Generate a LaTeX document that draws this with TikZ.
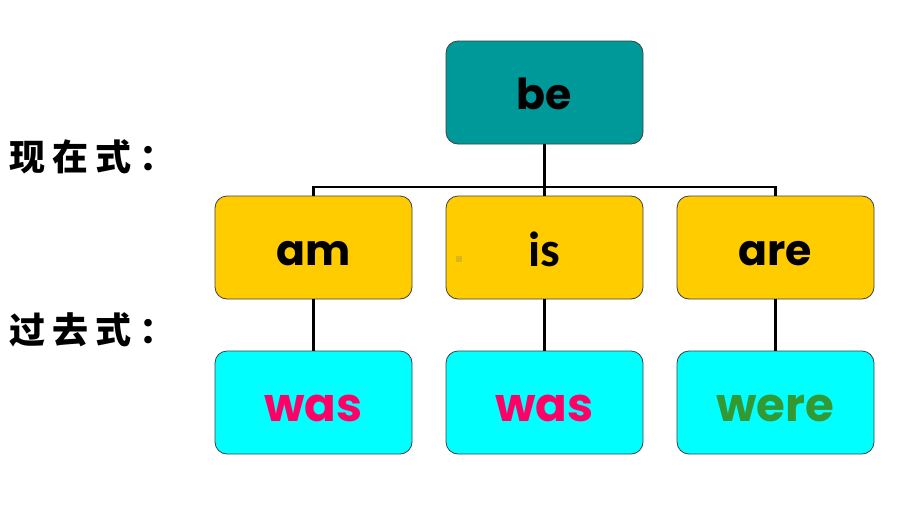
\documentclass[tikz,border=0pt]{standalone}
\usepackage{fontspec}
\setmainfont{Poppins}
\newfontfamily\cjk{Noto Sans CJK SC Black}
\newfontfamily\isfont{Carlito}
\definecolor{teal1}{HTML}{009999}
\definecolor{yel}{HTML}{FFCC00}
\definecolor{cyan1}{HTML}{00FFFF}
\definecolor{pinkred}{HTML}{FF0066}
\definecolor{green1}{HTML}{339933}
\definecolor{bord}{HTML}{404040}
\newcommand{\cg}{\hspace{5.5pt}}
\begin{document}
\begin{tikzpicture}[x=0.75pt,y=-0.75pt,
  box/.style={draw=bord,line width=0.6pt,rounded corners=9pt,minimum width=147.75pt,minimum height=77.25pt,inner sep=0pt},
  tbox/.style={box,fill=teal1},
  ybox/.style={box,fill=yel},
  cbox/.style={box,fill=cyan1},
  word/.style={anchor=base,inner sep=0pt,font=\fontsize{32}{34}\selectfont\bfseries},
  past/.style={word,font=\fontsize{35}{36}\selectfont\bfseries},
  conn/.style={draw=black,line width=1.6pt},
  lab/.style={font=\cjk\fontsize{27}{29}\selectfont,anchor=west,inner sep=0pt}]
\useasboundingbox (0,0) rectangle (920,525);
\fill[white] (0,0) rectangle (920,525);
\coordinate (hl) at (313.5,187);
\coordinate (hr) at (775.5,187);
\coordinate (hm) at (544.5,187);
\node[tbox] (be) at (544.5,92.5) {};
\node[ybox] (am) at (313.5,247.5) {};
\node[ybox] (is) at (544.5,247.5) {};
\node[ybox] (are) at (775.5,247.5) {};
\node[cbox] (was1) at (313.5,402.5) {};
\node[cbox] (was2) at (544.5,402.5) {};
\node[cbox] (were) at (775.5,402.5) {};
\node[word] (tbe) at (544.5,109) {be};
\node[word] (tam) at (313.5,265) {am};
\node[word,font=\isfont\bfseries\fontsize{37}{38}\selectfont] (tis) at (544.5,266) {is};
\node[word] (tare) at (775.5,265) {are};
\node[past,text=pinkred] (twas1) at (313.5,421) {was};
\node[past,text=pinkred] (twas2) at (544.5,421) {was};
\node[past,text=green1] (twere) at (775.5,421) {were};
\draw[conn] (be.south) -- (hm);
\draw[conn] (am.north) -- (hl) -- (hr) -- (are.north);
\draw[conn] (hm) -- (is.north);
\draw[conn] (am.south) -- (was1.north);
\draw[conn] (is.south) -- (was2.north);
\draw[conn] (are.south) -- (were.north);
\fill[yel!85!black!90] (456,256) rectangle (462,262);
\node[lab] (now) at (9,157) {现\cg 在\cg 式\cg ：};
\node[lab] (pastlab) at (9,330) {过\cg 去\cg 式\cg ：};
\end{tikzpicture}
\end{document}
